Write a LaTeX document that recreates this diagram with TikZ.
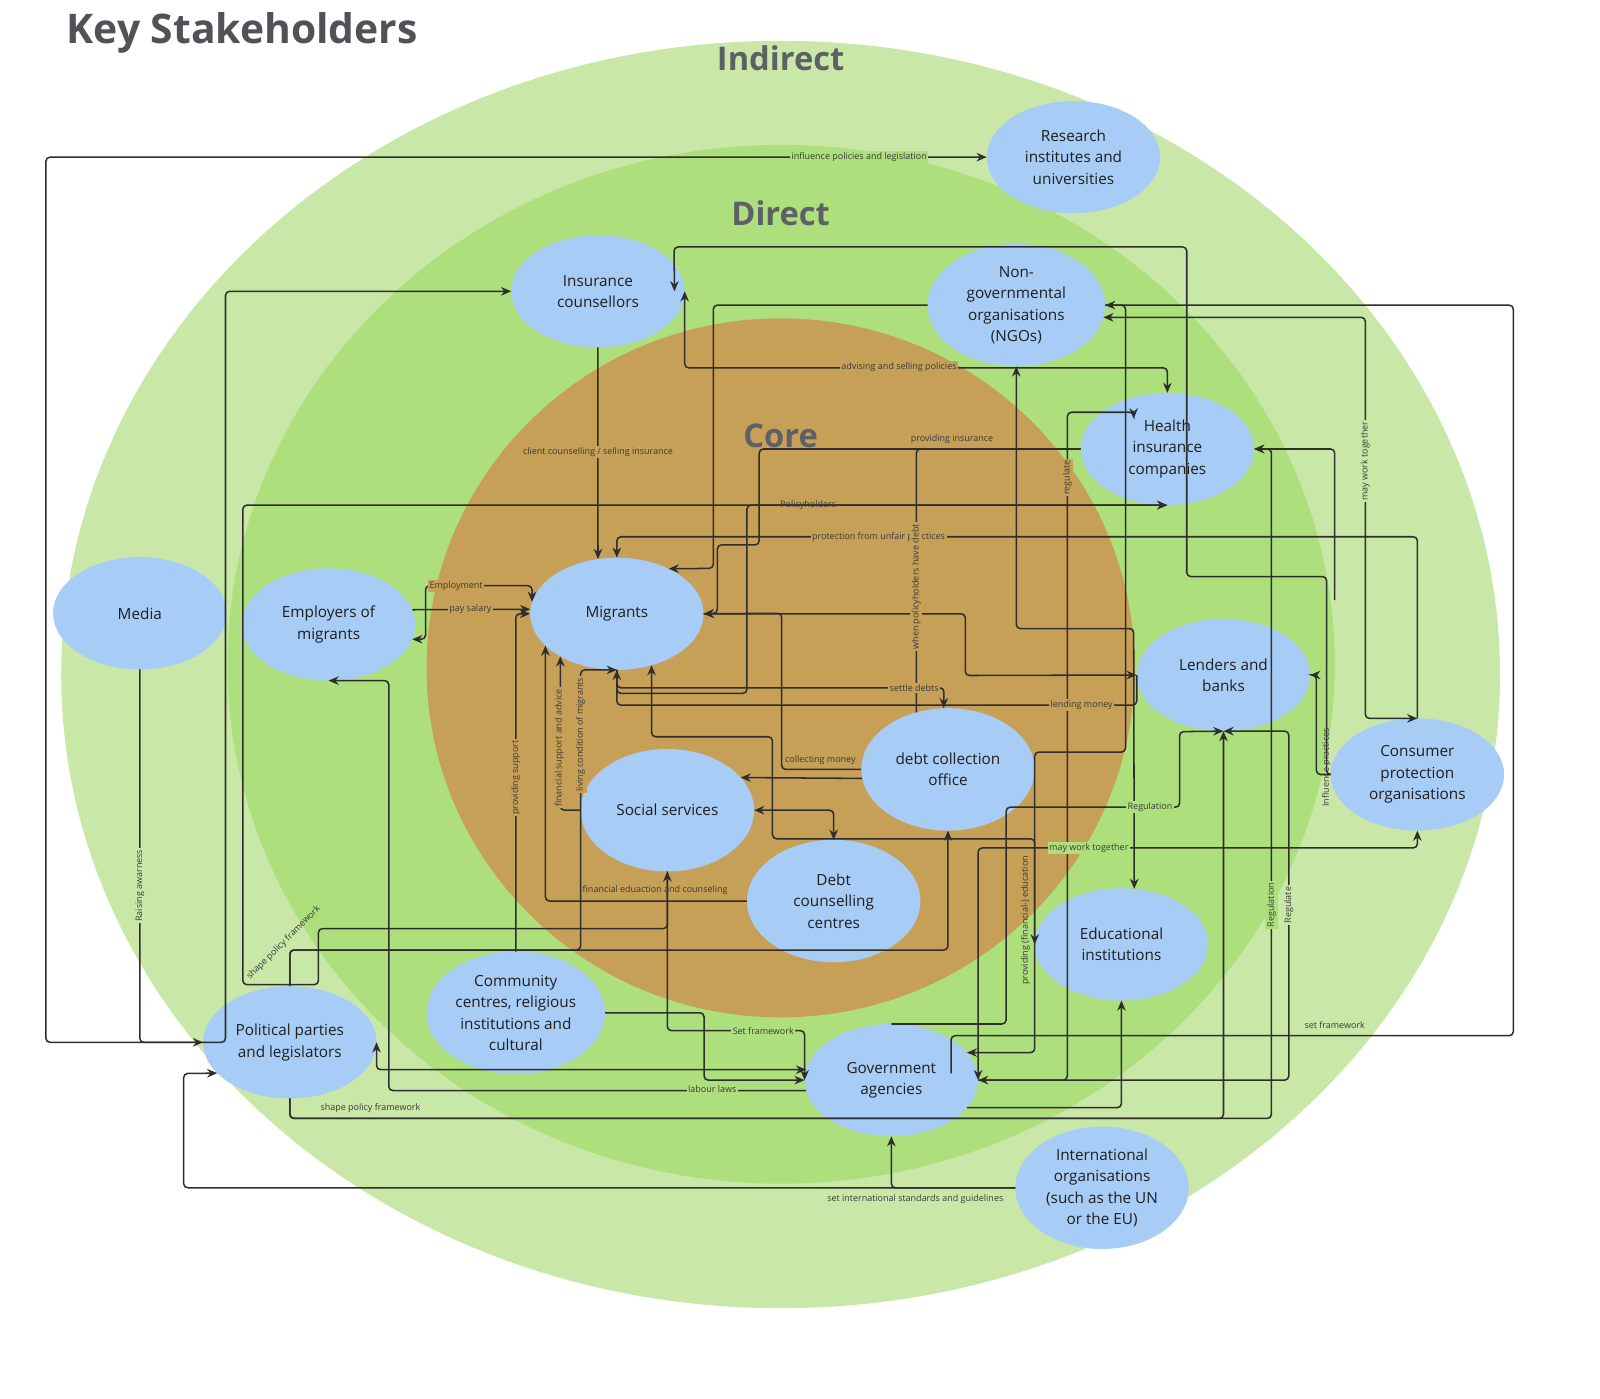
\documentclass[tikz,border=0pt]{standalone}
\usepackage{fontspec}
\setmainfont{Open Sans}
\usetikzlibrary{shapes.geometric,arrows.meta,calc}

\definecolor{ringout}{HTML}{C9E8A8}
\definecolor{ringmid}{HTML}{ADDF7D}
\definecolor{ringcore}{HTML}{C7A057}
\definecolor{actorblue}{HTML}{A7CCF5}
\definecolor{wirecol}{HTML}{2E2E2E}
\definecolor{wiretext}{HTML}{3A3A3A}
\definecolor{ringtext}{HTML}{5E6066}

\newcommand{\actorfont}{\fontsize{7.5}{10.5}\selectfont}
\newcommand{\wirefont}{\fontsize{4.4}{5}\selectfont}

\tikzset{every picture/.style={line width=0.75pt}}
\tikzset{
  actor/.style={ellipse, fill=actorblue, minimum width=85pt, minimum height=55pt, inner sep=0pt, outer sep=0pt, align=center, font=\actorfont, text=black!88},
  actor tall/.style={actor, minimum height=60pt},
  wire/.style={draw=wirecol, line width=0.75pt, rounded corners=2pt},
  lab/.style={font=\wirefont, text=wiretext, inner sep=0.8pt, fill=#1},
  lab/.default=none,
  ringname/.style={font=\bfseries\fontsize{16}{18}\selectfont, text=ringtext}
}

\begin{document}
\begin{tikzpicture}[x=0.5pt,y=0.5pt,yscale=-1,xscale=1,>={Stealth[length=5pt,width=4.2pt]}]
\useasboundingbox (0,0) rectangle (1568,1371);
\fill[white] (0,0) rectangle (1568,1371);

%Shape: Ellipse rings
\fill[ringout] (765,661) ellipse [x radius=705, y radius=621];
\fill[ringmid] (765.5,651) ellipse [x radius=542.5, y radius=509];
\fill[ringcore] (765,654.5) ellipse [x radius=347, y radius=342.5];

% Text Node
\node[anchor=west, font=\bfseries\fontsize{20}{24}\selectfont, text=ringtext!85!black] (title) at (58,32) {Key Stakeholders};
\node[ringname] (indirect) at (765,57) {Indirect};
\node[ringname] (direct) at (765,209) {Direct};
\node[ringname] (core) at (765,427) {Core};

%Shape: Ellipse stakeholders
\node[actor] (res) at (1052,154) {Research\\institutes and\\universities};
\node[actor] (ins) at (586,285.5) {Insurance\\counsellors};
\node[actor, minimum width=87pt, minimum height=60pt] (ngo) at (996,299) {Non-\\governmental\\organisations\\(NGOs)};
\node[actor] (hea) at (1144,440) {Health\\insurance\\companies};
\node[actor] (med) at (137,601) {Media};
\node[actor] (emp) at (322,612) {Employers of\\migrants};
\node[actor] (mig) at (604.5,601.5) {Migrants};
\node[actor] (len) at (1199,661.5) {Lenders and\\banks};
\node[actor tall] (dco) at (929,754) {debt collection\\office};
\node[actor] (con) at (1389,759) {Consumer\\protection\\organisations};
\node[actor tall] (soc) at (654,794) {Social services};
\node[actor tall] (dcc) at (817,883) {Debt\\counselling\\centres};
\node[actor] (edu) at (1099,925.5) {Educational\\institutions};
\node[actor tall, minimum width=87.5pt] (com) at (505.5,992.5) {Community\\centres, religious\\institutions and\\cultural};
\node[actor] (pol) at (284,1021.5) {Political parties\\and legislators};
\node[actor] (gov) at (873.5,1058.5) {Government\\agencies};
\node[actor tall] (int) at (1080,1164) {International\\organisations\\(such as the UN\\or the EU)};

\coordinate (hcut) at (1308,588);

% Connectors
\draw[wire,->] (pol.west) -| (45,154) -- (res.west);
\draw[wire,->] (med.south) |- (pol.west);
\draw[wire,->] (pol.west) -- ++(22,0) |- (ins.west);
\draw[wire,->] (ins.south) -- (mig.109);
\draw[wire,<->] (ins.east) -- ++(0,75) -| (hea.north);
\draw[wire,->] (ngo.west) -| (699,557) -- (mig.41);
\draw[wire,->] (con.north) -- ++(0,-178) -| (mig.north);
\draw[wire,->] (hea.west) -| (744,534) -| (703,601) -- (mig.east);
\draw[wire] (hea.west) -| (dco.119);
\draw[wire,->] (mig.south) -- ++(0,23) -| (732,495) -- (hea.south);
\draw[wire,->] (mig.south) |- (925,674) -- (dco.94);
\draw[wire,->] (len.west) -- ++(0,29.5) -| (mig.south);
\draw[wire,->] (pol.north) |- (569,931) |- (mig.south);
\draw[wire,->] (pol.north) |- (929,931) -- (dco.south);
\draw[wire,->] (mig.east) -| (946,662) -- (len.west);
\draw[wire,->] (dco.west) -| (766,601) -- (mig.east);
\draw[wire,->] (dco.186) -- (soc.24);
\draw[wire,<->] (soc.east) -| (dcc.north);
\draw[wire,->] (soc.west) -| (mig.-143);
\draw[wire,->] (dcc.west) -| (mig.-156);
\draw[wire,->] (com.north) |- (mig.west);
\draw[wire,->] (emp.10) -- (mig.177);
\draw[wire,<->] (mig.172) |- (417,574) |- (emp.-10);
\draw[wire,->] (con.west) -- ++(-4,0) |- (1163,565) |- (660.5,242) -- ([xshift=-5pt]ins.east);
\draw[wire,->] (con.west) -- ++(-14,0) |- (len.east);
\draw[wire,->] (hcut) |- (hea.east);
\draw[wire,<->] (ngo.-8) -| (1338,704) -- (con.north);
\draw[wire,->] ($(gov.center)+(58.5,-6.5)$) |- (1483,1015) |- (ngo.east);
\draw[wire,->] (ngo.east) -| (1103,737) -| (edu.west);
\draw[wire,<->] (ngo.south) |- (1111,616) -- (edu.77);
\draw[wire,<-] (mig.-56) |- (757,722) |- (1014,822) |- (edu.west);
\draw[wire,->] (edu.west) |- (gov.20);
\draw[wire,->] (gov.east) -| (1046,404) -| ($(hea.center)+(-33,-30)$);
\draw[wire,<->] (len.south) -| (1263,1058.5) -- (gov.east);
\draw[wire,->] (gov.north) -| (986,791) -| (1156,717) -- (len.south);
\draw[wire,->] (pol.south) |- (1246,1096) |- (hea.east);
\draw[wire,->] (pol.south) |- (1199,1096) -- (len.south);
\draw[wire,->] (gov.-20) -| (edu.south);
\draw[wire,<->] (con.south) |- (958.5,831) -- (gov.east);
\draw[wire,<->] (soc.south) |- (788.5,1010) -- (gov.west);
\draw[wire,->] (com.east) -| (690,1058.5) -- (gov.west);
\draw[wire,<->] (pol.east) |- (gov.173);
\draw[wire,->] (gov.187) -| (381,667) -- (emp.south);
\draw[wire,->] (soc.south) |- (312,910) |- (238,965) |- (hea.south);
\draw[wire,->] (int.west) -| (180,1052) -- (pol.203);
\draw[wire,->] (int.west) -| (gov.south);

% Text Node labels
\node[lab=ringmid] (l1) at (842,154) {influence policies and legislation};
\node[lab=ringcore] (l2) at (881,360) {advising and selling policies};
\node[lab] (l3) at (933,430) {providing insurance};
\node[lab=ringcore] (l4) at (586,443) {client counselling / selling insurance};
\node[lab] (l5) at (792,495) {Policyholders};
\node[lab=ringcore] (l6) at (861,526) {protection from unfair practices};
\node[lab=ringcore, rotate=90] (l7) at (898,575) {when policyholders have debt};
\node[lab=ringcore, rotate=90] (l8) at (1046,468) {regulate};
\node[lab=ringout, rotate=90] (l9) at (1338,452) {may work together};
\node[lab=ringcore] (l10) at (447,574) {Employment};
\node[lab=ringcore] (l11) at (461,597) {pay salary};
\node[lab=ringcore] (l12) at (896,674) {settle debts};
\node[lab=ringcore] (l13) at (1060,691) {lending money};
\node[lab] (l14) at (804,745) {collecting money};
\node[lab=ringcore, rotate=90] (l15) at (548,733) {financial support and advice};
\node[lab=ringcore, rotate=90] (l16) at (569,720) {living condition of migrants};
\node[lab=ringcore, rotate=90] (l17) at (505.5,762) {providing support};
\node[lab, rotate=90] (l18) at (1300,752) {Influence practices};
\node[lab=ringmid] (l19) at (1127,791) {Regulation};
\node[lab=ringmid] (l20) at (1067,831) {may work together};
\node[lab] (l21) at (642,872) {financial eduaction and counseling};
\node[lab, rotate=90] (l22) at (1005,902) {providing (financial-) education};
\node[lab=ringmid, rotate=90] (l23) at (1246,887) {Regulation};
\node[lab=ringout, rotate=90] (l24) at (1263,887) {Regulate};
\node[lab, rotate=45] (l25) at (278,924) {shape policy framework};
\node[lab=ringout, rotate=90] (l26) at (137,868) {Raising awarness};
\node[lab=ringmid] (l27) at (748,1010) {Set framework};
\node[lab] (l28) at (1308,1005) {set framework};
\node[lab=ringmid] (l29) at (698,1067) {labour laws};
\node[lab] (l30) at (363,1086) {shape policy framework};
\node[lab] (l31) at (897,1175) {set international standards and guidelines};

\end{tikzpicture}
\end{document}
